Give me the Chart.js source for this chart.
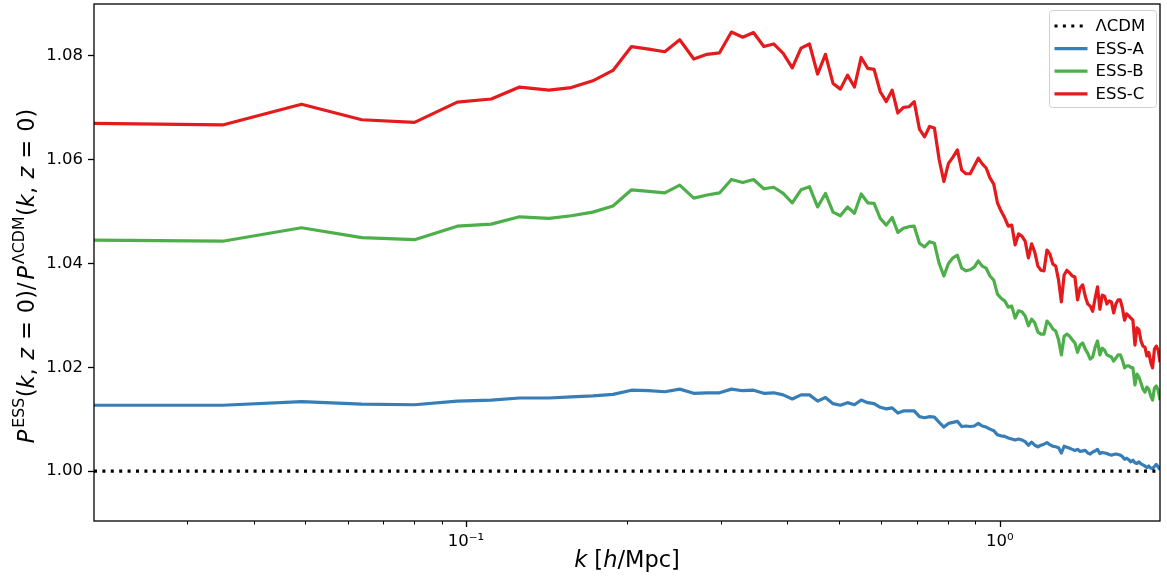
<!DOCTYPE html>
<html>
<head>
<meta charset="utf-8">
<script src="https://cdn.jsdelivr.net/npm/chart.js@4.4.1/dist/chart.umd.min.js"></script>
<style>
  html, body { margin: 0; padding: 0; background: #fff; }
  #wrap { width: 1167px; height: 578px; }
</style>
</head>
<body>
<div id="wrap"><canvas id="ratio" width="1167" height="578"></canvas></div>
<script>
// wavenumbers k [h/Mpc]
const kValues = [
  0.0201, 0.0350, 0.0492, 0.0638, 0.0801, 0.0963, 0.1115, 0.1260, 0.1430, 0.1575,
  0.1728, 0.1885, 0.2042, 0.2199, 0.2357, 0.2514, 0.2671, 0.2828, 0.2985, 0.3142,
  0.3299, 0.3456, 0.3613, 0.3770, 0.3928, 0.4085, 0.4242, 0.4399, 0.4556, 0.4713,
  0.4870, 0.5027, 0.5184, 0.5341, 0.5499, 0.5656, 0.5813, 0.5970, 0.6127, 0.6284,
  0.6441, 0.6598, 0.6755, 0.6912, 0.7070, 0.7227, 0.7384, 0.7541, 0.7698, 0.7855,
  0.8012, 0.8169, 0.8326, 0.8483, 0.8641, 0.8798, 0.8955, 0.9112, 0.9269, 0.9426,
  0.9583, 0.9740, 0.9897, 1.0054, 1.0212, 1.0369, 1.0526, 1.0683, 1.0840, 1.0997,
  1.1154, 1.1311, 1.1468, 1.1625, 1.1783, 1.1940, 1.2097, 1.2254, 1.2411, 1.2568,
  1.2725, 1.2882, 1.3039, 1.3196, 1.3354, 1.3511, 1.3668, 1.3825, 1.3982, 1.4139,
  1.4296, 1.4453, 1.4610, 1.4767, 1.4925, 1.5082, 1.5239, 1.5396, 1.5553, 1.5710,
  1.5867, 1.6024, 1.6181, 1.6338, 1.6496, 1.6653, 1.6810, 1.6967, 1.7124, 1.7281,
  1.7438, 1.7595, 1.7752, 1.7909, 1.8067, 1.8224, 1.8381, 1.8538, 1.8695, 1.8852,
  1.9009, 1.9166, 1.9323, 1.9480, 1.9638, 1.9795, 1.9952
];

const essA = [
  1.0127, 1.0127, 1.0134, 1.0129, 1.0128, 1.0135, 1.0137, 1.0141, 1.0141, 1.0143,
  1.0145, 1.0148, 1.0156, 1.0155, 1.0153, 1.0158, 1.0150, 1.0151, 1.0151, 1.0158,
  1.0155, 1.0156, 1.0150, 1.0151, 1.0147, 1.0139, 1.0147, 1.0147, 1.0135, 1.0142,
  1.0130, 1.0127, 1.0132, 1.0128, 1.0137, 1.0132, 1.0130, 1.0123, 1.0120, 1.0122,
  1.0112, 1.0116, 1.0116, 1.0116, 1.0105, 1.0103, 1.0105, 1.0104, 1.0094, 1.0085,
  1.0092, 1.0094, 1.0096, 1.0086, 1.0087, 1.0086, 1.0087, 1.0092, 1.0087, 1.0085,
  1.0081, 1.0078, 1.0070, 1.0068, 1.0067, 1.0064, 1.0062, 1.0060, 1.0062, 1.0060,
  1.0057, 1.0050, 1.0056, 1.0050, 1.0047, 1.0050, 1.0052, 1.0055, 1.0051, 1.0048,
  1.0047, 1.0045, 1.0035, 1.0048, 1.0046, 1.0044, 1.0042, 1.0040, 1.0042, 1.0038,
  1.0039, 1.0040, 1.0035, 1.0033, 1.0037, 1.0039, 1.0042, 1.0034, 1.0036, 1.0035,
  1.0034, 1.0032, 1.0031, 1.0032, 1.0033, 1.0032, 1.0031, 1.0028, 1.0023, 1.0025,
  1.0022, 1.0018, 1.0021, 1.0016, 1.0015, 1.0018, 1.0014, 1.0012, 1.0010, 1.0007,
  1.0010, 1.0006, 1.0005, 1.0009, 1.0013, 1.0008, 1.0003
];

const essB = [
  1.0445, 1.0443, 1.0469, 1.0450, 1.0446, 1.0472, 1.0476, 1.0490, 1.0487, 1.0492,
  1.0499, 1.0511, 1.0542, 1.0539, 1.0536, 1.0551, 1.0526, 1.0532, 1.0536, 1.0562,
  1.0556, 1.0562, 1.0544, 1.0547, 1.0535, 1.0517, 1.0542, 1.0548, 1.0509, 1.0535,
  1.0499, 1.0492, 1.0509, 1.0497, 1.0534, 1.0517, 1.0516, 1.0487, 1.0474, 1.0489,
  1.0460, 1.0468, 1.0471, 1.0472, 1.0439, 1.0432, 1.0442, 1.0439, 1.0400, 1.0376,
  1.0400, 1.0411, 1.0416, 1.0391, 1.0386, 1.0388, 1.0393, 1.0405, 1.0395, 1.0391,
  1.0376, 1.0368, 1.0341, 1.0333, 1.0328, 1.0316, 1.0318, 1.0295, 1.0309, 1.0307,
  1.0299, 1.0280, 1.0293, 1.0286, 1.0268, 1.0264, 1.0264, 1.0289, 1.0283, 1.0274,
  1.0270, 1.0253, 1.0224, 1.0260, 1.0264, 1.0260, 1.0253, 1.0247, 1.0229, 1.0243,
  1.0247, 1.0235, 1.0227, 1.0216, 1.0220, 1.0239, 1.0251, 1.0224, 1.0237, 1.0233,
  1.0224, 1.0222, 1.0220, 1.0212, 1.0218, 1.0224, 1.0224, 1.0214, 1.0199, 1.0203,
  1.0203, 1.0200, 1.0199, 1.0166, 1.0187, 1.0181, 1.0170, 1.0158, 1.0152, 1.0162,
  1.0158, 1.0145, 1.0137, 1.0160, 1.0164, 1.0156, 1.0137
];

const essC = [
  1.0670, 1.0667, 1.0707, 1.0677, 1.0672, 1.0711, 1.0717, 1.0740, 1.0734, 1.0739,
  1.0752, 1.0772, 1.0818, 1.0813, 1.0808, 1.0831, 1.0794, 1.0803, 1.0806, 1.0846,
  1.0836, 1.0845, 1.0818, 1.0823, 1.0805, 1.0777, 1.0815, 1.0823, 1.0765, 1.0803,
  1.0747, 1.0736, 1.0763, 1.0740, 1.0797, 1.0776, 1.0774, 1.0731, 1.0712, 1.0734,
  1.0690, 1.0701, 1.0702, 1.0712, 1.0659, 1.0644, 1.0664, 1.0661, 1.0600, 1.0558,
  1.0593, 1.0605, 1.0619, 1.0580, 1.0573, 1.0573, 1.0588, 1.0603, 1.0592, 1.0584,
  1.0565, 1.0553, 1.0517, 1.0501, 1.0488, 1.0472, 1.0474, 1.0436, 1.0457, 1.0453,
  1.0443, 1.0411, 1.0438, 1.0422, 1.0395, 1.0387, 1.0386, 1.0426, 1.0418, 1.0399,
  1.0395, 1.0368, 1.0326, 1.0378, 1.0387, 1.0382, 1.0376, 1.0374, 1.0330, 1.0353,
  1.0359, 1.0337, 1.0322, 1.0318, 1.0308, 1.0333, 1.0355, 1.0312, 1.0339, 1.0337,
  1.0322, 1.0328, 1.0326, 1.0305, 1.0322, 1.0330, 1.0330, 1.0314, 1.0291, 1.0303,
  1.0299, 1.0295, 1.0291, 1.0243, 1.0276, 1.0272, 1.0251, 1.0241, 1.0239, 1.0222,
  1.0229, 1.0210, 1.0199, 1.0235, 1.0241, 1.0233, 1.0210
];

// reference LCDM line, drawn across the whole k range
const lcdmK = [0.0201, 1.9952];
const lcdm = [1.0, 1.0];

const yTickVals = [1.00, 1.02, 1.04, 1.06, 1.08];
const xMajorTicks = [0.1, 1];
const xMinorTicks = [0.03, 0.04, 0.05, 0.06, 0.07, 0.08, 0.09,
                     0.2, 0.3, 0.4, 0.5, 0.6, 0.7, 0.8, 0.9];

const FONT = '"DejaVu Sans", "Liberation Sans", sans-serif';

const toPoints = (xs, ys) => xs.map((x, i) => ({ x: x, y: ys[i] }));

// measures a run of math-like text pieces: {t, it, sup, gap}
function mathRun(ctx, pieces, size) {
  const supSize = size * 0.7;
  let total = 0;
  const widths = pieces.map((p) => {
    ctx.font = (p.it ? "italic " : "") + (p.sup ? supSize : size) + "px " + FONT;
    const w = ctx.measureText(p.t).width + (p.gap || 0);
    total += w;
    return w;
  });
  return { total, widths, supSize };
}

function drawMath(ctx, pieces, size, startX, baseY) {
  const m = mathRun(ctx, pieces, size);
  let x = startX;
  pieces.forEach((p, i) => {
    ctx.font = (p.it ? "italic " : "") + (p.sup ? m.supSize : size) + "px " + FONT;
    ctx.fillText(p.t, x, p.sup ? baseY - size * 0.45 : baseY);
    x += m.widths[i];
  });
}

const yTitle = [
  { t: "P", it: true, gap: 2 }, { t: "ESS", sup: true, gap: 0.5 }, { t: "(" }, { t: "k", it: true },
  { t: ",", gap: 8.5 }, { t: "z", it: true, gap: 8 }, { t: "=", gap: 8 }, { t: "0)/", gap: 3 },
  { t: "P", it: true, gap: 2 }, { t: "ΛCDM", sup: true, gap: 0.5 }, { t: "(" }, { t: "k", it: true },
  { t: ",", gap: 8.5 }, { t: "z", it: true, gap: 8 }, { t: "=", gap: 8 }, { t: "0)" }
];
const xTitle = [
  { t: "k", it: true }, { t: " [" }, { t: "h", it: true }, { t: "/Mpc]" }
];

const decorations = {
  id: "decorations",
  afterDraw(chart) {
    const ctx = chart.ctx;
    const area = chart.chartArea;
    const xs = chart.scales.x;
    ctx.save();
    ctx.fillStyle = "#000";
    ctx.strokeStyle = "#000";
    ctx.textAlign = "left";
    ctx.textBaseline = "alphabetic";

    // x tick marks, major and minor
    ctx.lineWidth = 1.3;
    xMajorTicks.forEach((v) => {
      const px = Math.round(xs.getPixelForValue(v)) + 0.5;
      ctx.beginPath();
      ctx.moveTo(px, area.bottom);
      ctx.lineTo(px, area.bottom + 6);
      ctx.stroke();
    });
    ctx.lineWidth = 1;
    xMinorTicks.forEach((v) => {
      const px = Math.round(xs.getPixelForValue(v)) + 0.5;
      ctx.beginPath();
      ctx.moveTo(px, area.bottom);
      ctx.lineTo(px, area.bottom + 3.5);
      ctx.stroke();
    });

    // frame
    ctx.lineWidth = 1.3;
    ctx.strokeRect(area.left, area.top, area.right - area.left, area.bottom - area.top);

    // x title
    const xm = mathRun(ctx, xTitle, 22.5);
    drawMath(ctx, xTitle, 22.5, (area.left + area.right) / 2 - xm.total / 2, 567);

    // y title, rotated
    const ym = mathRun(ctx, yTitle, 22.5);
    ctx.save();
    ctx.translate(34, 276);
    ctx.rotate(-Math.PI / 2);
    drawMath(ctx, yTitle, 22.5, -ym.total / 2, 0);
    ctx.restore();

    // legend box in the upper right
    const ds = chart.data.datasets;
    const bx = 1049.5, by = 10.5, bw = 107, bh = 97;
    ctx.beginPath();
    ctx.roundRect(bx, by, bw, bh, 3);
    ctx.fillStyle = "rgba(255,255,255,0.8)";
    ctx.fill();
    ctx.strokeStyle = "#d0d0d0";
    ctx.lineWidth = 1;
    ctx.stroke();
    ctx.font = "16.5px " + FONT;
    ctx.textBaseline = "middle";
    ds.forEach((d, i) => {
      const cy = by + 15.5 + i * 22.6;
      ctx.strokeStyle = d.borderColor;
      ctx.lineWidth = d.borderWidth;
      ctx.setLineDash(d.borderDash || []);
      ctx.beginPath();
      ctx.moveTo(bx + 5, cy);
      ctx.lineTo(bx + 38, cy);
      ctx.stroke();
      ctx.setLineDash([]);
      ctx.fillStyle = "#000";
      ctx.fillText(d.label, bx + 46, cy + 1);
    });
    ctx.restore();
  }
};

const lineStyle = { pointRadius: 0, borderWidth: 3.2, tension: 0, borderJoinStyle: "round", fill: false };

new Chart(document.getElementById("ratio"), {
  type: "line",
  data: {
    datasets: [
      { label: "ΛCDM", data: toPoints(lcdmK, lcdm), borderColor: "#000000",
        borderDash: [3, 5.4], ...lineStyle, borderWidth: 3.2 },
      { label: "ESS-A", data: toPoints(kValues, essA), borderColor: "#377eb8", ...lineStyle },
      { label: "ESS-B", data: toPoints(kValues, essB), borderColor: "#4daf4a", ...lineStyle },
      { label: "ESS-C", data: toPoints(kValues, essC), borderColor: "#e41a1c", ...lineStyle }
    ]
  },
  options: {
    responsive: false,
    animation: false,
    devicePixelRatio: 1,
    layout: { padding: { left: 0, right: 7, top: 4, bottom: 0 } },
    plugins: {
      legend: { display: false },
      tooltip: { enabled: false }
    },
    scales: {
      x: {
        type: "logarithmic",
        min: 0.0201,
        max: 1.9952,
        afterFit: (scale) => {
          scale.height = 57;
          scale.paddingLeft = 0;
          scale.paddingRight = 0;
        },
        afterBuildTicks: (scale) => {
          scale.ticks = xMajorTicks.map((v) => ({ value: v, major: true }));
        },
        grid: { display: false },
        border: { display: false },
        ticks: {
          autoSkip: false,
          maxRotation: 0,
          padding: 3,
          color: "#000",
          font: { family: FONT, size: 16.5 },
          callback: (v) => (v === 0.1 ? "10\u207B\u00B9" : v === 1 ? "10\u2070" : "")
        }
      },
      y: {
        type: "linear",
        min: 0.9904,
        max: 1.09,
        afterFit: (scale) => {
          scale.width = 94;
          scale.paddingTop = 0;
          scale.paddingBottom = 0;
        },
        afterBuildTicks: (scale) => {
          scale.ticks = yTickVals.map((v) => ({ value: v }));
        },
        grid: {
          drawOnChartArea: false,
          drawTicks: true,
          tickLength: 6,
          tickColor: "#000",
          tickWidth: 1.3
        },
        border: { display: false },
        ticks: {
          padding: 5,
          color: "#000",
          font: { family: FONT, size: 16.5 },
          callback: (v) => v.toFixed(2)
        }
      }
    }
  },
  plugins: [decorations]
});
</script>
</body>
</html>
